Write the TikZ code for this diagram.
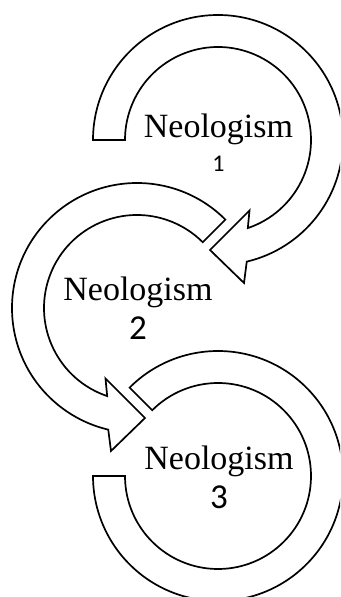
\documentclass[tikz,border=0pt]{standalone}
\usepackage{fontspec}
\setmainfont{Liberation Serif}
\newfontfamily\numfont{Carlito}
\usetikzlibrary{calc}
\begin{document}
\begin{tikzpicture}[x=1pt,y=1pt,
  arrowband/.style={draw=black, fill=white, line width=1.7pt, line join=miter},
  wordlabel/.style={anchor=base, inner sep=0pt, font=\fontsize{34}{40}\selectfont},
  numlabel/.style={anchor=base, inner sep=0pt, font=\numfont\fontsize{35}{40}\selectfont},
  smallnumlabel/.style={anchor=base, inner sep=0pt, font=\numfont\fontsize{24}{28}\selectfont}]
\clip (0,0) rectangle (340,597);
\coordinate (c1) at (218,457);
\coordinate (c2) at (137,289);
\coordinate (c3) at (218,121);
% arrow 3 (no head)
\draw[arrowband] ($(c3)+(135:125)$) arc[start angle=135, end angle=-180, radius=125]
  -- ($(c3)+(180:93)$) arc[start angle=-180, end angle=135, radius=93] -- cycle;
% arrow 2
\draw[arrowband] ($(c2)+(45:125)$) arc[start angle=45, end angle=256.7, radius=125]
  -- ($(c2)+(-26,-143)$) -- ($(c2)+(8,-110)$) -- ($(c2)+(-31.5,-70.5)$)
  -- ($(c2)+(251.3:93)$) arc[start angle=251.3, end angle=45, radius=93] -- cycle;
% arrow 1
\draw[arrowband] ($(c1)+(180:125)$) arc[start angle=180, end angle=-76.7, radius=125]
  -- ($(c1)+(26,-143)$) -- ($(c1)+(-8,-110)$) -- ($(c1)+(31.5,-70.5)$)
  -- ($(c1)+(-71.3:93)$) arc[start angle=-71.3, end angle=180, radius=93] -- cycle;
% labels
\node[wordlabel] (w1) at (218.5,459.7) {Neologism};
\node[smallnumlabel] (n1) at (218.5,425.3) {1};
\node[wordlabel] (w2) at (138,296.3) {Neologism};
\node[numlabel] (n2) at (138,257.7) {2};
\node[wordlabel] (w3) at (219,127.7) {Neologism};
\node[numlabel] (n3) at (219,88.7) {3};
\end{tikzpicture}
\end{document}
